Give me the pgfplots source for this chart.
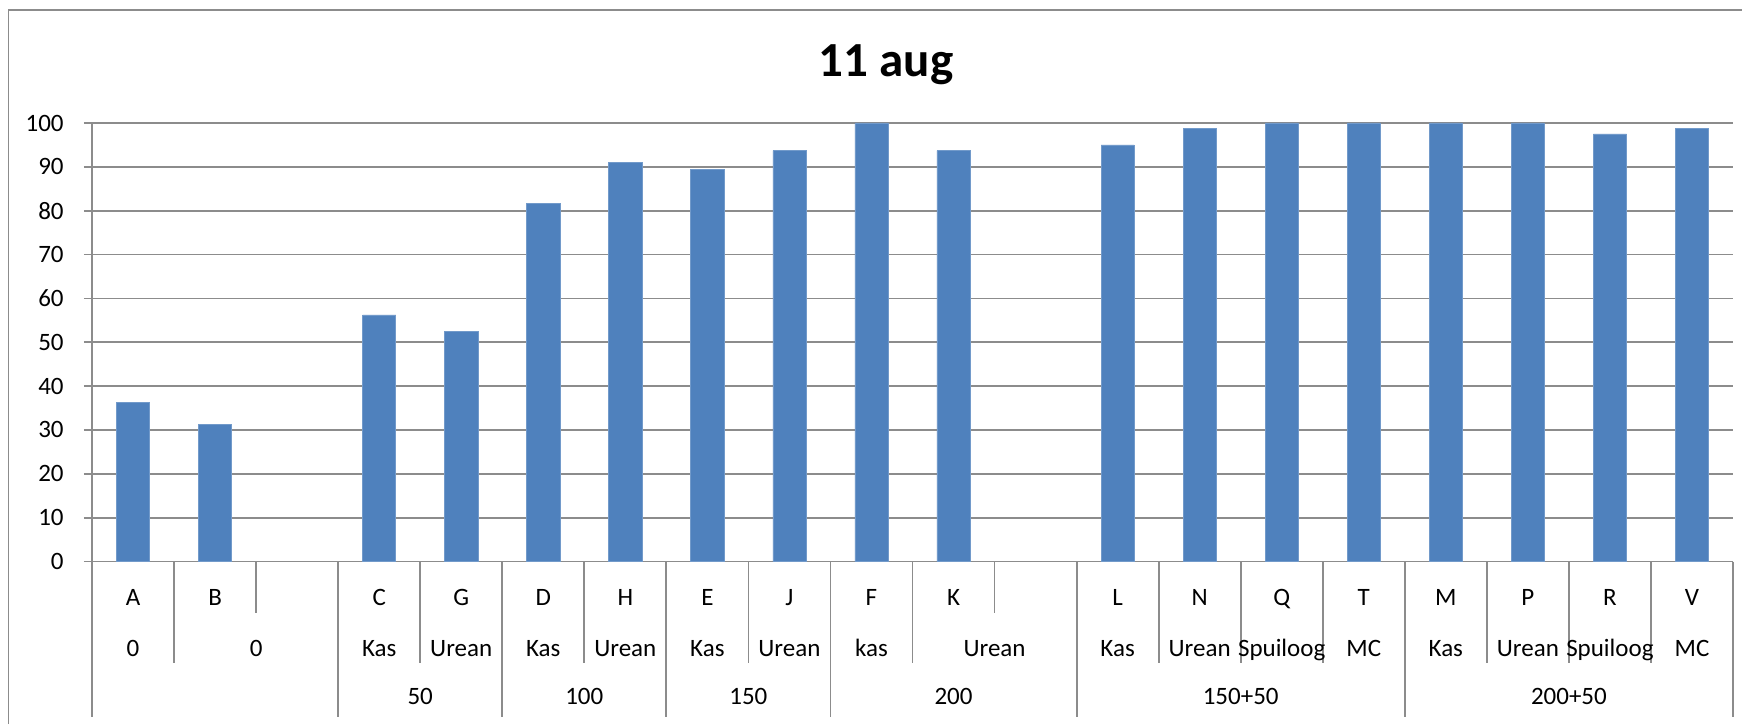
\documentclass[border=0pt]{standalone}
\usepackage{fontspec}
\setmainfont{Carlito}
\usepackage{pgfplots}
\pgfplotsset{compat=1.18}
\definecolor{barblue}{HTML}{4F81BD}
\definecolor{gridcol}{HTML}{8C8C8C}
\tikzset{catlab/.style={anchor=base, inner sep=0pt, font=\fontsize{12.5}{14}\selectfont}}
\begin{document}
\begin{tikzpicture}
% picture frame: 1742x724 px at 0.5pt per px
\path[use as bounding box] (0,0) rectangle (871pt,362pt);
\draw[gridcol, line width=0.8pt] (4.15pt,0pt) -- (4.15pt,357pt) -- (871pt,357pt);
\node[anchor=base, font=\fontsize{24.5}{28}\selectfont\bfseries] at (443pt,323.6pt) {11 aug};
\begin{axis}[
    at={(46pt,81.25pt)}, anchor=south west,
    scale only axis,
    width=820.5pt, height=219.25pt,
    xmin=-0.5, xmax=19.5,
    ymin=0, ymax=100,
    ytick={0,10,...,100},
    xtick=\empty,
    axis x line*=bottom, axis y line*=left,
    axis line style={-, draw=gridcol, line width=0.9pt},
    ymajorgrids,
    grid style={draw=gridcol, line width=0.9pt},
    tick align=outside, major tick length=4pt,
    tick style={draw=gridcol, line width=0.9pt},
    /pgf/number format/assume math mode=true,
    ticklabel style={font=\fontsize{12.5}{14}\selectfont},
    yticklabel style={inner sep=0pt, xshift=-10pt},
    clip=false,
    ybar, bar width=16.6pt,
]
\addplot[fill=barblue, draw=barblue!80!white, line width=0.3pt] coordinates {
    (0,36.25) (1,31.25) (3,56.25) (4,52.5) (5,81.6) (6,91.1) (7,89.4)
    (8,93.7) (9,100) (10,93.7) (12,95) (13,98.7) (14,100) (15,100)
    (16,100) (17,100) (18,97.5) (19,98.7)};
% category boundaries (three label rows)
\pgfplotsinvokeforeach{0,3,5,7,9,12,16,20}{
    \draw[gridcol, line width=0.9pt] (axis cs:#1-0.5,0) -- ([yshift=-77.75pt]axis cs:#1-0.5,0);}
\pgfplotsinvokeforeach{1,4,6,8,10,13,14,15,17,18,19}{
    \draw[gridcol, line width=0.9pt] (axis cs:#1-0.5,0) -- ([yshift=-50.75pt]axis cs:#1-0.5,0);}
\pgfplotsinvokeforeach{2,11}{
    \draw[gridcol, line width=0.9pt] (axis cs:#1-0.5,0) -- ([yshift=-25.75pt]axis cs:#1-0.5,0);}
% row 1
\foreach \x/\t in {0/A,1/B,3/C,4/G,5/D,6/H,7/E,8/J,9/F,10/K,12/L,13/N,14/Q,15/T,16/M,17/P,18/R,19/V}{
    \edef\temp{\noexpand\node[catlab] at ([yshift=-21.8pt]axis cs:\x,0) {\t};}\temp}
% row 2
\foreach \x/\t in {0/0,1.5/0,3/Kas,4/Urean,5/Kas,6/Urean,7/Kas,8/Urean,9/kas,10.5/Urean,12/Kas,13/Urean,14/Spuiloog,15/MC,16/Kas,17/Urean,18/Spuiloog,19/MC}{
    \edef\temp{\noexpand\node[catlab] at ([yshift=-47.6pt]axis cs:\x,0) {\t};}\temp}
% row 3
\foreach \x/\t in {3.5/50,5.5/100,7.5/150,10/200,13.5/150+50,17.5/200+50}{
    \edef\temp{\noexpand\node[catlab] at ([yshift=-71.5pt]axis cs:\x,0) {\t};}\temp}
\end{axis}
\end{tikzpicture}
\end{document}
